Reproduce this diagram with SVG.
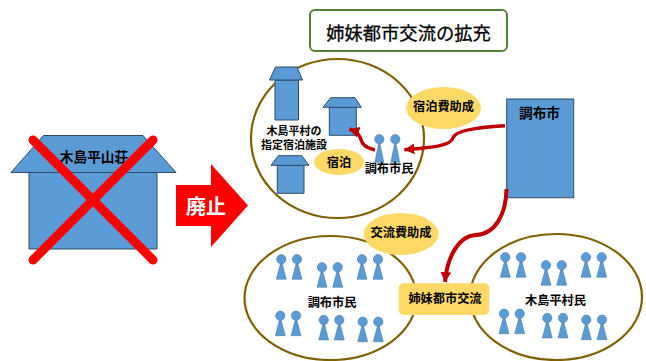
<svg xmlns="http://www.w3.org/2000/svg" xmlns:xlink="http://www.w3.org/1999/xlink" width="646" height="361" viewBox="0 0 646 361">
<style>
text{font-family:"Noto Sans CJK JP","Liberation Sans",sans-serif;text-anchor:middle;dominant-baseline:central;fill:#000;font-size:12.2px;font-weight:700}
.b{fill:#5b9bd5;stroke:#2f4b6b;stroke-width:1}
.p{fill:#5b9bd5;stroke:#41719c;stroke-width:.5}
.o{fill:#fff;stroke:#7f6000;stroke-width:2.2}
.y{fill:#ffd966}
.a{fill:none;stroke:#c00000;stroke-width:3.500}
.x{stroke:#f00;stroke-width:9;stroke-linecap:round}
</style>
<defs>
<marker id="ah" markerUnits="userSpaceOnUse" markerWidth="13" markerHeight="13" refX="10" refY="5.500" orient="auto"><path d="M0 0L10 5.500L0 11z" fill="#c00000"/></marker>
<g id="pr"><path class="p" d="M0 1L5 20H-5z"/><circle class="p" r="4.700"/></g>
<g id="pt"><path class="p" d="M0 1L4.500 23H-4.500z"/><circle class="p" r="4.700"/></g>
</defs>
<rect width="646" height="361" fill="#fff"/>
<g id="yamaso">
<path class="b" d="M29 172.500H157V249H29z"/>
<path class="b" d="M11 172.500L43.500 135.500H143L176 172.500z"/>
<text x="94" y="155.500" style="font-size:13.700px">木島平山荘</text>
<path class="x" d="M33 140L153 260M153 140L33 260"/>
</g>
<g id="haishi">
<path d="M176 185H211V164L248 205.500L211 247V226H176z" fill="#f00"/>
<text x="206" y="205.500" style="font-size:20px;fill:#fff">廃止</text>
</g>
<g id="title">
<rect x="310" y="10" width="197" height="41" rx="5" fill="#fff" stroke="#548235" stroke-width="2"/>
<text x="408.500" y="31.500" style="font-size:18.300px;font-weight:400;stroke:#000;stroke-width:.3">姉妹都市交流の拡充</text>
</g>
<g id="lodging">
<ellipse class="o" cx="337.500" cy="138.500" rx="86.500" ry="79.500"/>
<path class="b" d="M275 80H298.500V120H275z"/>
<path class="b" d="M269.500 80L275.500 67H297L302.500 80z"/>
<path class="b" d="M329.300 107.300H356.300V135.300H329.300z"/>
<path class="b" d="M323 107.300L330.700 97.700H355L361.300 107.300z"/>
<path class="b" d="M277.300 165.300H304V193.300H277.300z"/>
<path class="b" d="M271 165.300L278.300 155.700H301.700L309 165.300z"/>
<text x="294" y="129.500" style="font-size:11px">木島平村の</text>
<text x="294" y="144" style="font-size:11px">指定宿泊施設</text>
<ellipse class="y" cx="339" cy="162" rx="25" ry="13"/>
<text x="339" y="162">宿泊</text>
<use xlink:href="#pt" href="#pt" x="379.300" y="139.300"/>
<use xlink:href="#pt" href="#pt" x="395.300" y="139.300"/>
<text x="389" y="168">調布市民</text>
</g>
<g id="subsidy1">
<ellipse class="y" cx="443.500" cy="108" rx="37.500" ry="21"/>
<text x="443.500" y="106">宿泊費助成</text>
</g>
<g id="chofu">
<rect x="506.700" y="99" width="67" height="98.700" fill="#5b9bd5" stroke="#2f4b6b"/>
<text x="539.500" y="112" style="font-size:13.700px">調布市</text>
</g>
<g id="citizens">
<ellipse class="o" cx="330.500" cy="298" rx="86" ry="62"/>
<use xlink:href="#pr" href="#pr" x="281.300" y="259.300"/>
<use xlink:href="#pr" href="#pr" x="297" y="259.300"/>
<use xlink:href="#pr" href="#pr" x="322" y="267.300"/>
<use xlink:href="#pr" href="#pr" x="337.700" y="267.300"/>
<use xlink:href="#pr" href="#pr" x="362" y="259.300"/>
<use xlink:href="#pr" href="#pr" x="378" y="259.300"/>
<use xlink:href="#pr" href="#pr" x="280.300" y="315.700"/>
<use xlink:href="#pr" href="#pr" x="296" y="315.700"/>
<use xlink:href="#pr" href="#pr" x="323.700" y="320"/>
<use xlink:href="#pr" href="#pr" x="339.300" y="320"/>
<use xlink:href="#pr" href="#pr" x="362.700" y="321.700"/>
<use xlink:href="#pr" href="#pr" x="378.300" y="321.700"/>
<text x="332" y="302">調布市民</text>
</g>
<g id="villagers">
<ellipse class="o" cx="556" cy="297" rx="86" ry="63"/>
<use xlink:href="#pr" href="#pr" x="505.300" y="257.300"/>
<use xlink:href="#pr" href="#pr" x="521" y="257.300"/>
<use xlink:href="#pr" href="#pr" x="546" y="265.300"/>
<use xlink:href="#pr" href="#pr" x="561.700" y="265.300"/>
<use xlink:href="#pr" href="#pr" x="586" y="257.300"/>
<use xlink:href="#pr" href="#pr" x="601.700" y="257.300"/>
<use xlink:href="#pr" href="#pr" x="504" y="313.700"/>
<use xlink:href="#pr" href="#pr" x="519.700" y="313.700"/>
<use xlink:href="#pr" href="#pr" x="547.300" y="318"/>
<use xlink:href="#pr" href="#pr" x="563" y="318"/>
<use xlink:href="#pr" href="#pr" x="586.300" y="319.700"/>
<use xlink:href="#pr" href="#pr" x="602" y="319.700"/>
<text x="555.500" y="300">木島平村民</text>
</g>
<g id="subsidy2">
<ellipse class="y" cx="401" cy="234" rx="37.500" ry="21"/>
<text x="401" y="231.500">交流費助成</text>
</g>
<g id="exchange">
<rect class="y" x="398.700" y="283.300" width="90.600" height="31.700" rx="5"/>
<text x="445" y="298">姉妹都市交流</text>
</g>
<g id="connectors">
<path class="a" marker-end="url(#ah)" d="M505 125.700C480 127 455 130 453 138C450 147 425 148 404.300 149.700"/>
<path class="a" marker-end="url(#ah)" d="M375 150C362 147 362 142 360 137C358 133 355 131 349.300 129"/>
<path class="a" style="stroke-width:4" marker-end="url(#ah)" d="M506.500 189C506 215 495 234 476 235C458 236 447 258 445 282"/>
</g>
</svg>
